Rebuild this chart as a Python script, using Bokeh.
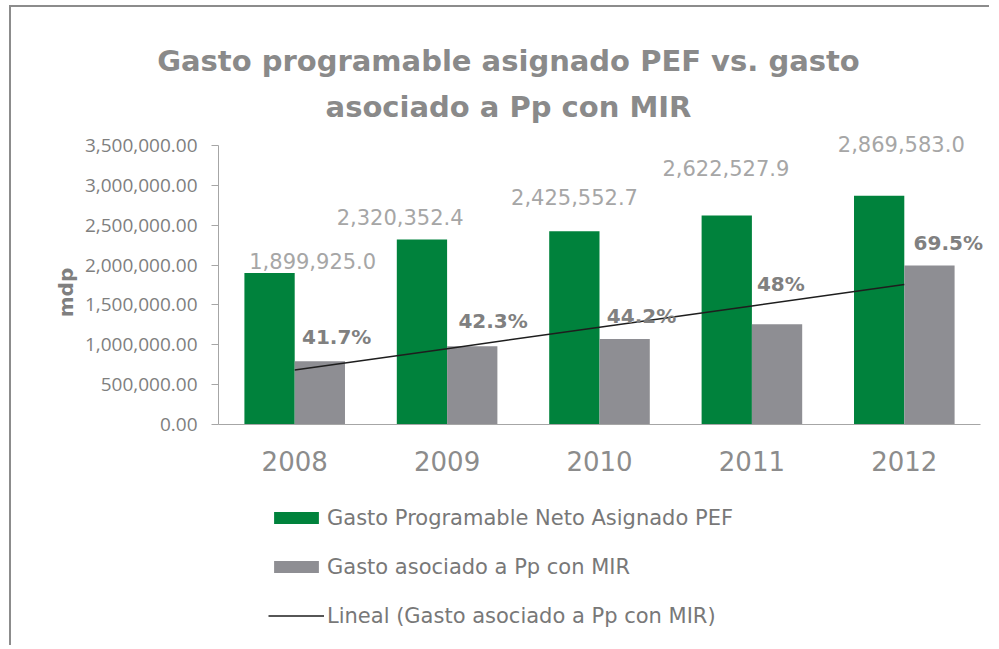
import math
import numpy as np
from bokeh.plotting import figure
from bokeh.models import (ColumnDataSource, Range1d, FixedTicker,
                          NumeralTickFormatter, LabelSet, Label, Legend, LegendItem)
from bokeh.transform import dodge
from bokeh.core.properties import value
from bokeh.embed import file_html
from bokeh.resources import INLINE

# ---------------- data ----------------
years = ["2008", "2009", "2010", "2011", "2012"]
pef = [1899925.0, 2320352.4, 2425552.7, 2622527.9, 2869583.0]
mir = [792000.0, 981000.0, 1072000.0, 1259000.0, 1994000.0]
pef_labels = ["1,899,925.0", "2,320,352.4", "2,425,552.7", "2,622,527.9", "2,869,583.0"]
pct_labels = ["41.7%", "42.3%", "44.2%", "48%", "69.5%"]
y_ticks = [0, 500000, 1000000, 1500000, 2000000, 2500000, 3000000, 3500000]
series_names = ["Gasto Programable Neto Asignado PEF",
                "Gasto asociado a Pp con MIR",
                "Lineal (Gasto asociado a Pp con MIR)"]
title_lines = ["Gasto programable asignado PEF vs. gasto", "asociado a Pp con MIR"]
y_title = "mdp"

# category positions and linear trend of the MIR series
idx = list(range(len(years)))
slope, intercept = np.polyfit(idx, mir, 1)
trend = [intercept + slope * i for i in idx]

# ---------------- layout (page pixels) ----------------
CANVAS_X, CANVAS_Y = 11, 7
W, H = 980, 640
CAT_L, CAT_R = 218, 980            # page x of first/last category edges (y axis at left)
AXIS_TOP, AXIS_ZERO = 145, 424      # page y of top tick and of 0
cat_px = (CAT_R - CAT_L) / len(years)
x_start = (CANVAS_X - CAT_L) / cat_px - 0.5
x_end = (CANVAS_X + W - CAT_L) / cat_px - 0.5
ppu = (AXIS_ZERO - AXIS_TOP) / y_ticks[-1]
y_start = -(CANVAS_Y + H - AXIS_ZERO) / ppu
y_end = (AXIS_ZERO - CANVAS_Y) / ppu


def sx(px):
    return px - CANVAS_X


def sy(py):
    return CANVAS_Y + H - py


# label placement (pixel offsets, layout only)
pef_dx = [18, -47, -25, -26, -3]
pef_dy = [4, 15, 26, 39, 44]
pct_dx = [42, 46, 42, 29, 44]
pct_dy = [17, 18, 16, 33, 16]

GREEN = "#00823c"
GREY = "#8e8e93"
TXT = "#7f7f7f"

src = ColumnDataSource(dict(x=idx, year=years, pef=pef, mir=mir, pef_lab=pef_labels,
                            pct_lab=pct_labels, pef_dx=pef_dx, pef_dy=pef_dy,
                            pct_dx=pct_dx, pct_dy=pct_dy))

p = figure(x_range=Range1d(x_start, x_end), y_range=Range1d(y_start, y_end),
           width=W, height=H, output_backend="svg", toolbar_location=None,
           min_border_left=0, min_border_right=0, min_border_top=0,
           min_border_bottom=0)
p.outline_line_color = None
p.xgrid.grid_line_color = None
p.ygrid.grid_line_color = None
p.background_fill_color = "white"
p.border_fill_color = "white"
p.styles = {"margin-top": "5px", "margin-left": "9px",
            "border-top": "2px solid #8c8c8c", "border-left": "2px solid #8c8c8c"}

g = p.vbar(x=dodge("x", -0.165), top="pef", width=0.33,
           source=src, fill_color=GREEN, line_color=None)
r = p.vbar(x=dodge("x", 0.165), top="mir", width=0.33,
           source=src, fill_color=GREY, line_color=None)
t = p.line(x=idx, y=trend, line_color="#1e1e1e", line_width=1.5)

p.add_layout(LabelSet(x="x", y="pef", text="pef_lab",
                      x_offset="pef_dx", y_offset="pef_dy", source=src,
                      text_align="center", text_baseline="alphabetic",
                      text_font=value("DejaVu Sans"), text_font_size="21px",
                      text_color="#a6a6a6"))
p.add_layout(LabelSet(x="x", y="mir", text="pct_lab",
                      x_offset="pct_dx", y_offset="pct_dy", source=src,
                      text_align="center", text_baseline="alphabetic",
                      text_font=value("DejaVu Sans"), text_font_style="bold",
                      text_font_size="20px", text_color="#808080"))

# y axis (placed at the left edge of the first category)
p.yaxis.fixed_location = -0.5
p.yaxis.bounds = (y_ticks[0], y_ticks[-1])
p.yaxis.ticker = FixedTicker(ticks=y_ticks)
p.yaxis.formatter = NumeralTickFormatter(format="0,0.00")
p.yaxis.major_label_text_font = "Open Sans"
p.yaxis.major_label_text_font_size = "19px"
p.yaxis.major_label_text_color = TXT
p.yaxis.axis_line_color = "#a6a6a6"
p.yaxis.major_tick_line_color = "#a6a6a6"
p.yaxis.major_tick_out = 7
p.yaxis.major_tick_in = 0
p.yaxis.minor_tick_line_color = None
p.yaxis.major_label_standoff = 14

# x axis (categories)
p.xaxis.fixed_location = 0
p.xaxis.bounds = (-0.5, len(years) - 0.5)
p.xaxis.ticker = FixedTicker(ticks=idx)
p.xaxis.major_label_overrides = {i: yv for i, yv in zip(idx, years)}
p.xaxis.major_label_text_font = "DejaVu Sans"
p.xaxis.major_label_text_font_size = "26px"
p.xaxis.major_label_text_color = "#8c8c8c"
p.xaxis.major_tick_line_color = None
p.xaxis.minor_tick_line_color = None
p.xaxis.axis_line_color = "#a6a6a6"
p.xaxis.major_label_standoff = 20

# y axis title
p.add_layout(Label(x=sx(65), y=sy(292), x_units="screen", y_units="screen",
                   text=y_title, angle=math.pi / 2, text_align="center",
                   text_baseline="middle", text_font="DejaVu Sans",
                   text_font_style="bold", text_font_size="20px", text_color=TXT))

# chart title (two centred lines)
for txt, base in zip(title_lines, [60, 106]):
    p.add_layout(Label(x=sx(508), y=sy(base), x_units="screen", y_units="screen",
                       text=txt, text_align="center", text_baseline="alphabetic",
                       text_font="DejaVu Sans", text_font_style="bold",
                       text_font_size="29px", text_color="#8a8a8a"))

legend = Legend(items=[LegendItem(label=series_names[0], renderers=[g]),
                       LegendItem(label=series_names[1], renderers=[r]),
                       LegendItem(label=series_names[2], renderers=[t])],
                location=(sx(268), sy(628)), orientation="vertical",
                glyph_width=56, glyph_height=15, label_standoff=3,
                label_text_font="DejaVu Sans", label_text_font_size="21px",
                label_text_color="#787878", label_height=25, spacing=24,
                padding=0, margin=0, border_line_color=None,
                background_fill_alpha=0)
p.add_layout(legend)

open("out.html", "w").write(file_html(p, INLINE))
